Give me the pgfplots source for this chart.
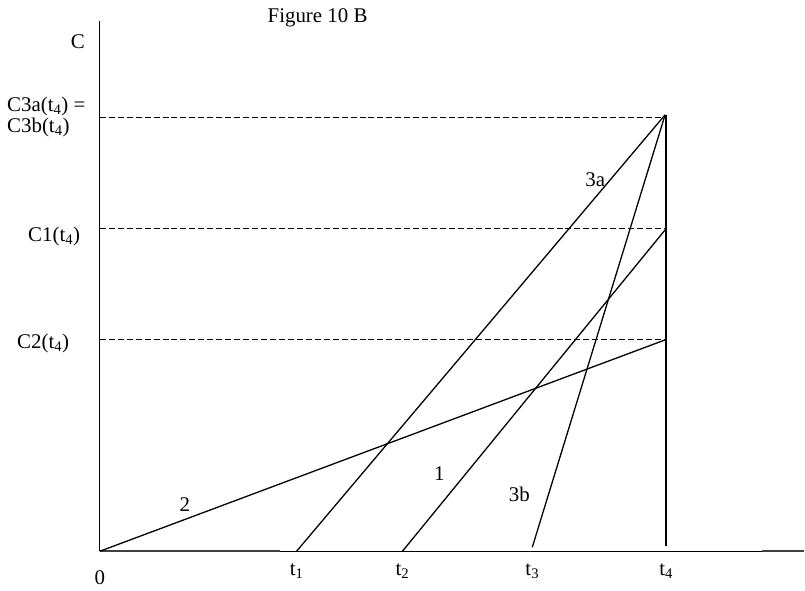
\documentclass[border=0pt]{standalone}
\usepackage{pgfplots}
\pgfplotsset{compat=1.18}
\usepackage{fontspec}
\setmainfont{Liberation Serif}
\tikzset{lab/.style={font=\fontsize{21}{23}\selectfont, inner sep=0pt}}
\begin{document}
\begin{tikzpicture}
\begin{axis}[
    x=1bp, y=1bp,
    xmin=-100, xmax=705, ymin=-39, ymax=552,
    hide axis, clip=false,
]
% page frame (invisible)
\path (axis cs:-100,-39) rectangle (axis cs:705,552);
% axes
\addplot[black, line width=1.1pt] coordinates {(0,0) (0,531)};
\addplot[black, line width=1.1pt] coordinates {(0,0) (705,0)};
\addplot[black!75, line width=2.2pt] coordinates {(0,0) (180,0)};
\addplot[black!75, line width=2.2pt] coordinates {(663,0) (705,0)};
% dashed levels
\addplot[black, line width=1pt, dash pattern=on 6pt off 3pt] coordinates {(0,434) (567,434)};
\addplot[black, line width=1pt, dash pattern=on 6pt off 3pt] coordinates {(0,323) (567,323)};
\addplot[black, line width=1pt, dash pattern=on 6pt off 3pt] coordinates {(0,212) (567,212)};
% t4 vertical
\addplot[black, line width=1.8pt] coordinates {(567,5) (567,437)};
% lines
\addplot[black, line width=1.3pt] coordinates {(0,0) (567,212)};
\addplot[black, line width=1.3pt] coordinates {(303,0) (567,323)};
\addplot[black, line width=1.3pt] coordinates {(197,0) (566,437)};
\addplot[black, line width=1.3pt] coordinates {(433,4) (566,437)};
% texts
\node[lab] at (axis cs:218,534) {Figure 10 B};
\node[lab] at (axis cs:-22,510) {C};
\node[lab, anchor=west] at (axis cs:-93,445) {C3a(t\textsubscript{4}) =};
\node[lab, anchor=west] at (axis cs:-93,424) {C3b(t\textsubscript{4})};
\node[lab, anchor=west] at (axis cs:-72,315) {C1(t\textsubscript{4})};
\node[lab, anchor=west] at (axis cs:-83,208) {C2(t\textsubscript{4})};
\node[lab] at (axis cs:0,-26) {0};
\node[lab] at (axis cs:197,-20) {t\textsubscript{1}};
\node[lab] at (axis cs:303,-20) {t\textsubscript{2}};
\node[lab] at (axis cs:433,-20) {t\textsubscript{3}};
\node[lab] at (axis cs:567,-20) {t\textsubscript{4}};
\node[lab] at (axis cs:85,47) {2};
\node[lab] at (axis cs:340,78) {1};
\node[lab] at (axis cs:420,57) {3b};
\node[lab] at (axis cs:496,372) {3a};
\end{axis}
\end{tikzpicture}
\end{document}
